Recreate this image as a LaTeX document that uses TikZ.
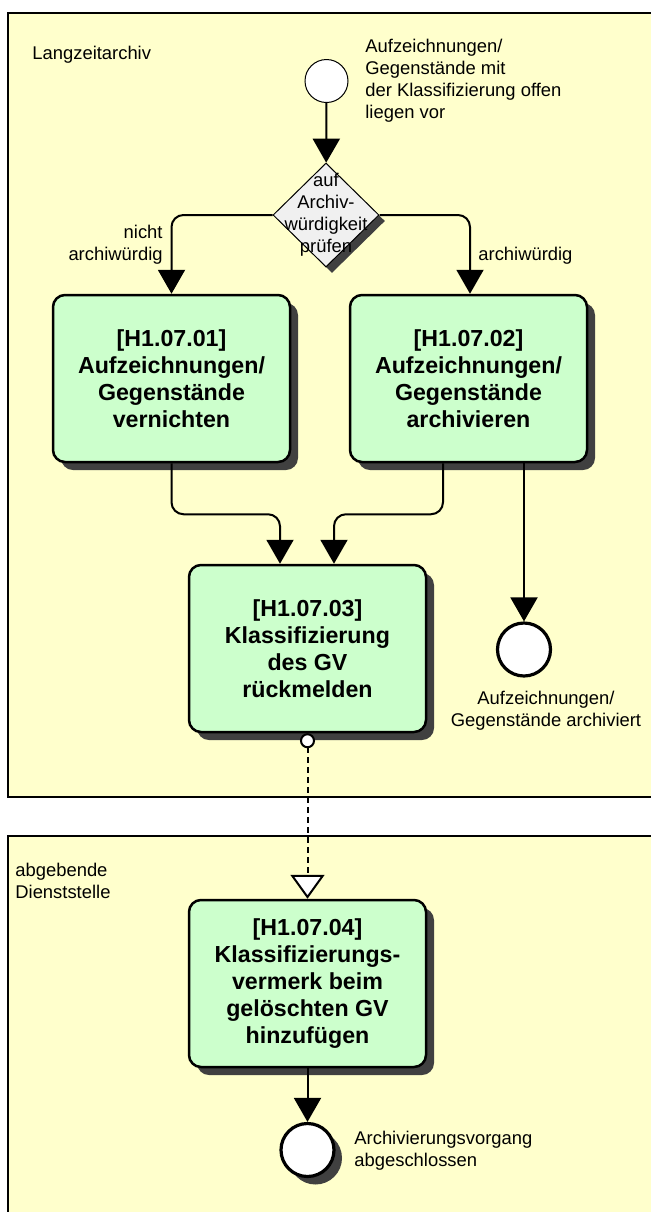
\documentclass[tikz,border=0pt]{standalone}
\usepackage{fontspec}
\setmainfont{Liberation Sans}
\usetikzlibrary{arrows.meta,shapes.geometric,shadows}
\definecolor{poolyellow}{RGB}{255,255,204}
\definecolor{taskgreen}{RGB}{204,255,204}
\definecolor{gatewaygray}{RGB}{240,240,240}
\definecolor{shadowgray}{RGB}{64,64,64}
\begin{document}
\begin{tikzpicture}[x=0.5pt,y=-0.5pt,>={Triangle[width=13.5pt,length=12pt]}]
    \tikzset{
        pool/.style={draw,line width=0.75pt},
        lane/.style={font=\fontsize{9.2}{11}\selectfont,inner sep=0pt},
        darkshadow/.style={drop shadow={shadow xshift=4pt,shadow yshift=-4pt,fill=shadowgray,opacity=1}},
        task/.style={draw,line width=1.25pt,fill=taskgreen,rounded corners=6pt,
            minimum width=118.5pt,minimum height=83.5pt,align=center,
            font=\fontsize{11.6}{13.5}\selectfont\bfseries,darkshadow},
        gateway/.style={diamond,draw,line width=0.5pt,fill=gatewaygray,inner sep=0pt,
            minimum width=53pt,minimum height=52pt,
            drop shadow={shadow xshift=3pt,shadow yshift=-3pt,fill=shadowgray,opacity=1}},
        startevent/.style={circle,draw,line width=0.5pt,fill=white,minimum size=21.5pt,inner sep=0pt},
        endevent/.style={circle,draw,line width=1.6pt,fill=white,minimum size=26.5pt,inner sep=0pt},
        flow/.style={->,line width=1pt,rounded corners=6pt},
        msgflow/.style={{Circle[open,length=7.5pt,fill=white]}-{Triangle[open,width=17pt,length=12pt,fill=white]},
            line width=1pt,dash pattern=on 3pt off 2pt}
    }
    \useasboundingbox (0,0) rectangle (651,1212);
    \fill[white] (0,0) rectangle (651,1212);

    \fill[poolyellow] (8,13) rectangle (660,797);
    \draw[pool] (660,13) -- (8,13) -- (8,797) -- (660,797);
    \fill[poolyellow] (8,836) rectangle (660,1220);
    \draw[pool] (660,836) -- (8,836) -- (8,1220);
    \node[lane,anchor=west] (archiv) at (32,55) {Langzeitarchiv};
    \node[lane,anchor=west,align=left] (dienst) at (15,881) {abgebende\\Dienststelle};

    \node[startevent] (start) at (326.5,81) {};
    \node[lane,anchor=west,align=left] (startlbl) at (365,80.5)
        {Aufzeichnungen/\\Gegenstände mit\\der Klassifizierung offen\\liegen vor};
    \node[gateway,label={[lane,align=center]center:{auf\\Archiv-\\würdigkeit\\prüfen}}]
        (check) at (326,215) {};

    \node[task] (vernichten) at (171.5,378.5) {[H1.07.01]\\Aufzeichnungen/\\Gegenstände\\vernichten};
    \node[task] (archivieren) at (468.5,378.5) {[H1.07.02]\\Aufzeichnungen/\\Gegenstände\\archivieren};
    \node[task] (rueckmelden) at (307.5,648.5) {[H1.07.03]\\Klassifizierung\\des GV\\rückmelden};
    \node[task] (vermerk) at (307.5,983.5) {[H1.07.04]\\Klassifizierungs-\\vermerk beim\\gelöschten GV\\hinzufügen};

    \node[endevent] (archiviert) at (524,649.5) {};
    \node[lane,align=center] (archivlbl) at (546,711) {Aufzeichnungen/\\Gegenstände archiviert};
    \node[endevent,darkshadow] (fertig) at (307.5,1150) {};
    \node[lane,anchor=west,align=left] (fertiglbl) at (354,1151) {Archivierungsvorgang\\abgeschlossen};

    \node[lane,anchor=east,align=right] (nein) at (163,245) {nicht\\archiwürdig};
    \node[lane,anchor=west] (ja) at (478,256) {archiwürdig};

    \draw[flow] (start) -- (check);
    \draw[flow] (check.west) -| (vernichten.north);
    \draw[flow] (check.east) -| ([xshift=0.75pt]archivieren.north);
    \draw[flow] (vernichten.south) -- ++(0,51) -| ([xshift=-13.75pt]rueckmelden.north);
    \draw[flow] ([xshift=-12.75pt]archivieren.south) -- ++(0,51) -| ([xshift=13.25pt]rueckmelden.north);
    \draw[flow] (archiviert.north |- archivieren.south) -- (archiviert);
    \draw[msgflow] (rueckmelden.south) -- (vermerk.north);
    \draw[flow] (vermerk) -- (fertig);
\end{tikzpicture}
\end{document}
